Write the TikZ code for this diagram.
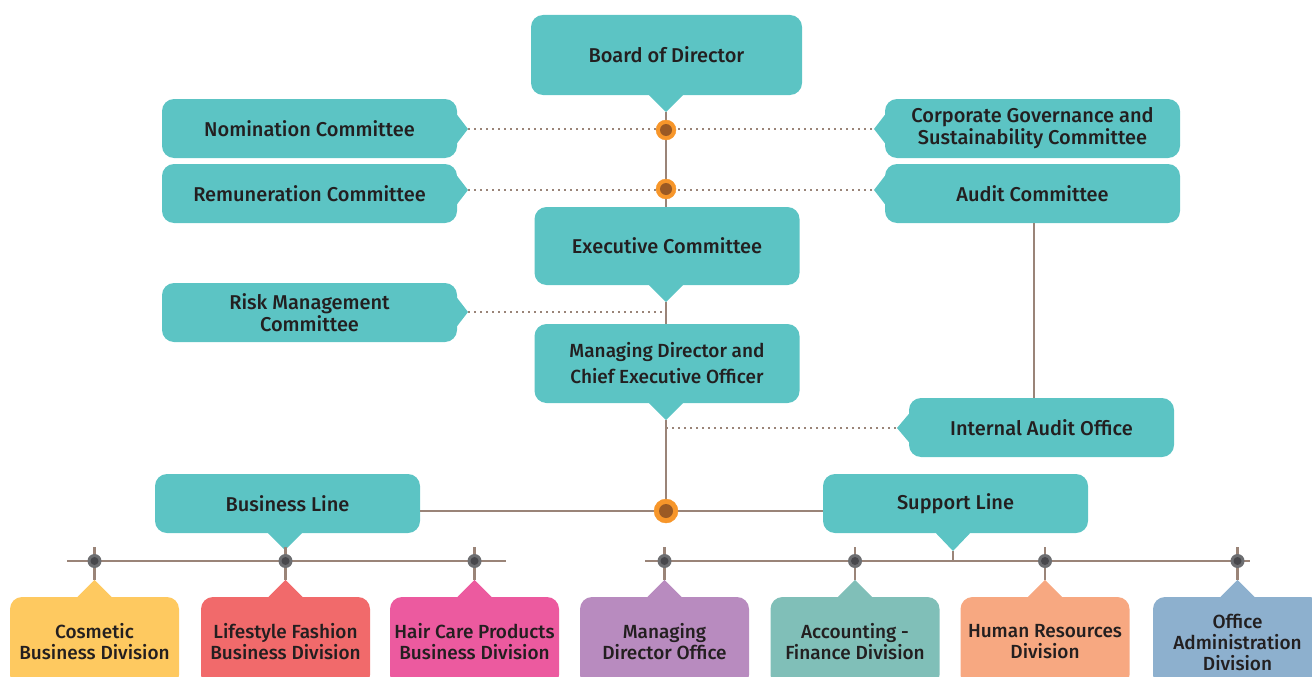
\documentclass[tikz,border=0pt]{standalone}
\usepackage{fontspec}
\setmainfont{Fira Sans}[BoldFont={Fira Sans Medium}]
\usetikzlibrary{positioning,calc}
\definecolor{boxcolor}{HTML}{5CC4C4}
\definecolor{linecolor}{HTML}{9A8478}
\definecolor{textcolor}{HTML}{231F20}
\definecolor{dotorange}{HTML}{F7962A}
\definecolor{dotbrown}{HTML}{9B5A24}
\definecolor{dotgray}{HTML}{6D6E71}
\definecolor{dotdark}{HTML}{48484C}
\definecolor{CosmeticColor}{HTML}{FEC960}
\definecolor{LifestyleColor}{HTML}{F16A6B}
\definecolor{HairCareColor}{HTML}{EC5A9F}
\definecolor{MDOfficeColor}{HTML}{B88BBF}
\definecolor{AccountingColor}{HTML}{80BFB8}
\definecolor{HumanResColor}{HTML}{F7A881}
\definecolor{OfficeAdminColor}{HTML}{8DB0CE}

\begin{document}
\begin{tikzpicture}[x=1pt, y=-1pt,
    box/.style={fill=boxcolor, rounded corners=12pt, minimum width=265pt, minimum height=59pt, align=center, text=textcolor, font=\fontsize{20}{22}\selectfont\bfseries},
    division/.style={box, minimum width=169pt, minimum height=90pt, font=\fontsize{19}{21}\selectfont\bfseries},
    link/.style={linecolor, line width=2.5pt},
    dotline/.style={linecolor, line width=2pt, dash pattern=on 2pt off 4pt}]
    \clip (0,0) rectangle (1312,677);
    \useasboundingbox (0,0) rectangle (1312,677);

    % governance boxes
    \node[box, minimum width=271pt, minimum height=80pt] at (666.5,55) (Board) {Board of Director};
    \node[box, minimum width=295pt] at (309.5,128.5) (Nomination) {Nomination Committee};
    \node[box, minimum width=295pt] at (309.5,193.5) (Remuneration) {Remuneration Committee};
    \node[box, minimum width=295pt] at (1032.5,128.5) (CorpGov) {Corporate Governance and\\Sustainability Committee};
    \node[box, minimum width=295pt] at (1032.5,193.5) (Audit) {Audit Committee};
    \node[box, minimum height=78pt] at (667,246) (Executive) {Executive Committee};
    \node[box, minimum width=295pt] at (309.5,312.5) (Risk) {Risk Management\\Committee};
    \node[box, minimum height=79pt, font=\fontsize{19}{26}\selectfont\bfseries] at (667,363.5) (MD) {Managing Director and\\Chief Executive Officer};
    \node[box] at (1041.5,427.5) (InternalAudit) {Internal Audit Office};
    \node[box] at (287.5,503.5) (Business) {Business Line};
    \node[box] at (955.5,503.5) (Support) {Support Line};

    % divisions
    \node[division, fill=CosmeticColor] at (94.5,642) (Cosmetic) {Cosmetic\\Business Division};
    \node[division, fill=LifestyleColor] at (285.5,642) (Lifestyle) {Lifestyle Fashion\\Business Division};
    \node[division, fill=HairCareColor] at (474.5,642) (HairCare) {Hair Care Products\\Business Division};
    \node[division, fill=MDOfficeColor] at (664.5,642) (MDOffice) {Managing\\Director Office};
    \node[division, fill=AccountingColor] at (855,642) (Accounting) {\raisebox{-3pt}{Accounting -}\\\raisebox{-3pt}{Finance Division}};
    \node[division, fill=HumanResColor] at (1045,642) (HumanRes) {\raisebox{-3pt}{Human Resources}\\\raisebox{-3pt}{Division}};
    \node[division, fill=OfficeAdminColor] at (1237.5,642) (OfficeAdmin) {Office\\Administration\\Division};

    % pointers
    \coordinate (BoardTip) at (666,112);
    \coordinate (ExecTip) at (666,302);
    \coordinate (MDTip) at (666,420);
    \coordinate (BusinessTip) at (285,550);
    \coordinate (SupportTip) at (953,551);
    \coordinate (NomTip) at (468,129);
    \coordinate (RemTip) at (468,190);
    \coordinate (CorpTip) at (874,129);
    \coordinate (AuditTip) at (874,190);
    \coordinate (RiskTip) at (468,312);
    \coordinate (IATip) at (897,428);
    \fill[boxcolor] ($(BoardTip|-Board.south)+(-17,0)$) -- (BoardTip) -- ($(BoardTip|-Board.south)+(17,0)$) -- cycle;
    \fill[boxcolor] ($(ExecTip|-Executive.south)+(-17,0)$) -- (ExecTip) -- ($(ExecTip|-Executive.south)+(17,0)$) -- cycle;
    \fill[boxcolor] ($(MDTip|-MD.south)+(-17,0)$) -- (MDTip) -- ($(MDTip|-MD.south)+(17,0)$) -- cycle;
    \fill[boxcolor] ($(BusinessTip|-Business.south)+(-17,0)$) -- (BusinessTip) -- ($(BusinessTip|-Business.south)+(17,0)$) -- cycle;
    \fill[boxcolor] ($(SupportTip|-Support.south)+(-17,0)$) -- (SupportTip) -- ($(SupportTip|-Support.south)+(17,0)$) -- cycle;
    \fill[boxcolor] ($(Nomination.east|-NomTip)+(0,-14)$) -- (NomTip) -- ($(Nomination.east|-NomTip)+(0,14)$) -- cycle;
    \fill[boxcolor] ($(Remuneration.east|-RemTip)+(0,-14)$) -- (RemTip) -- ($(Remuneration.east|-RemTip)+(0,14)$) -- cycle;
    \fill[boxcolor] ($(Risk.east|-RiskTip)+(0,-14)$) -- (RiskTip) -- ($(Risk.east|-RiskTip)+(0,14)$) -- cycle;
    \fill[boxcolor] ($(CorpGov.west|-CorpTip)+(0,-14)$) -- (CorpTip) -- ($(CorpGov.west|-CorpTip)+(0,14)$) -- cycle;
    \fill[boxcolor] ($(Audit.west|-AuditTip)+(0,-14)$) -- (AuditTip) -- ($(Audit.west|-AuditTip)+(0,14)$) -- cycle;
    \fill[boxcolor] ($(InternalAudit.west|-IATip)+(0,-14)$) -- (IATip) -- ($(InternalAudit.west|-IATip)+(0,14)$) -- cycle;

    % main line
    \coordinate (NomDot) at (666,130);
    \coordinate (RemDot) at (666,189);
    \coordinate (RiskJoin) at (666,312);
    \coordinate (IAJoin) at (666,428);
    \coordinate (Hub) at (666,511);
    \draw[dotline] (NomTip) -- (CorpTip);
    \draw[dotline] (RemTip) -- (AuditTip);
    \draw[dotline] (RiskTip) -- (RiskJoin);
    \draw[dotline] (IAJoin) -- (IATip);
    \draw[link] (BoardTip) -- (ExecTip|-Executive.north);
    \draw[link] (ExecTip) -- (MDTip|-MD.north);
    \draw[link] (MDTip) -- (Hub);
    \draw[link] (1034,223) -- (1034,398);
    \draw[link] (Business.east|-Hub) -- (Support.west|-Hub);

    % rails
    \coordinate (LeftRail) at (67,561);
    \coordinate (RightRail) at (645,561);
    \draw[link] (LeftRail) -- (506,561);
    \draw[link] (RightRail) -- (1250,561);
    \draw[link] (SupportTip) -- (SupportTip|-RightRail);
    \foreach \div in {Cosmetic,Lifestyle,HairCare,MDOffice,Accounting,HumanRes,OfficeAdmin} {
        \coordinate (\div Tip) at ($(\div.north)+(0,-17)$);
        \fill[\div Color] ($(\div Tip)+(-17,17)$) -- (\div Tip) -- ($(\div Tip)+(17,17)$) -- cycle;
        \draw[link] (\div Tip) -- ++(0,-33);
        \fill[dotgray] (\div Tip|-LeftRail) circle (7pt);
        \fill[dotdark] (\div Tip|-LeftRail) circle (4pt);
    }

    % orange dots
    \filldraw[dotorange] (NomDot) circle (10pt);
    \fill[dotbrown] (NomDot) circle (6pt);
    \filldraw[dotorange] (RemDot) circle (10pt);
    \fill[dotbrown] (RemDot) circle (6pt);
    \filldraw[dotorange] (Hub) circle (12pt);
    \fill[dotbrown] (Hub) circle (7pt);
\end{tikzpicture}
\end{document}
